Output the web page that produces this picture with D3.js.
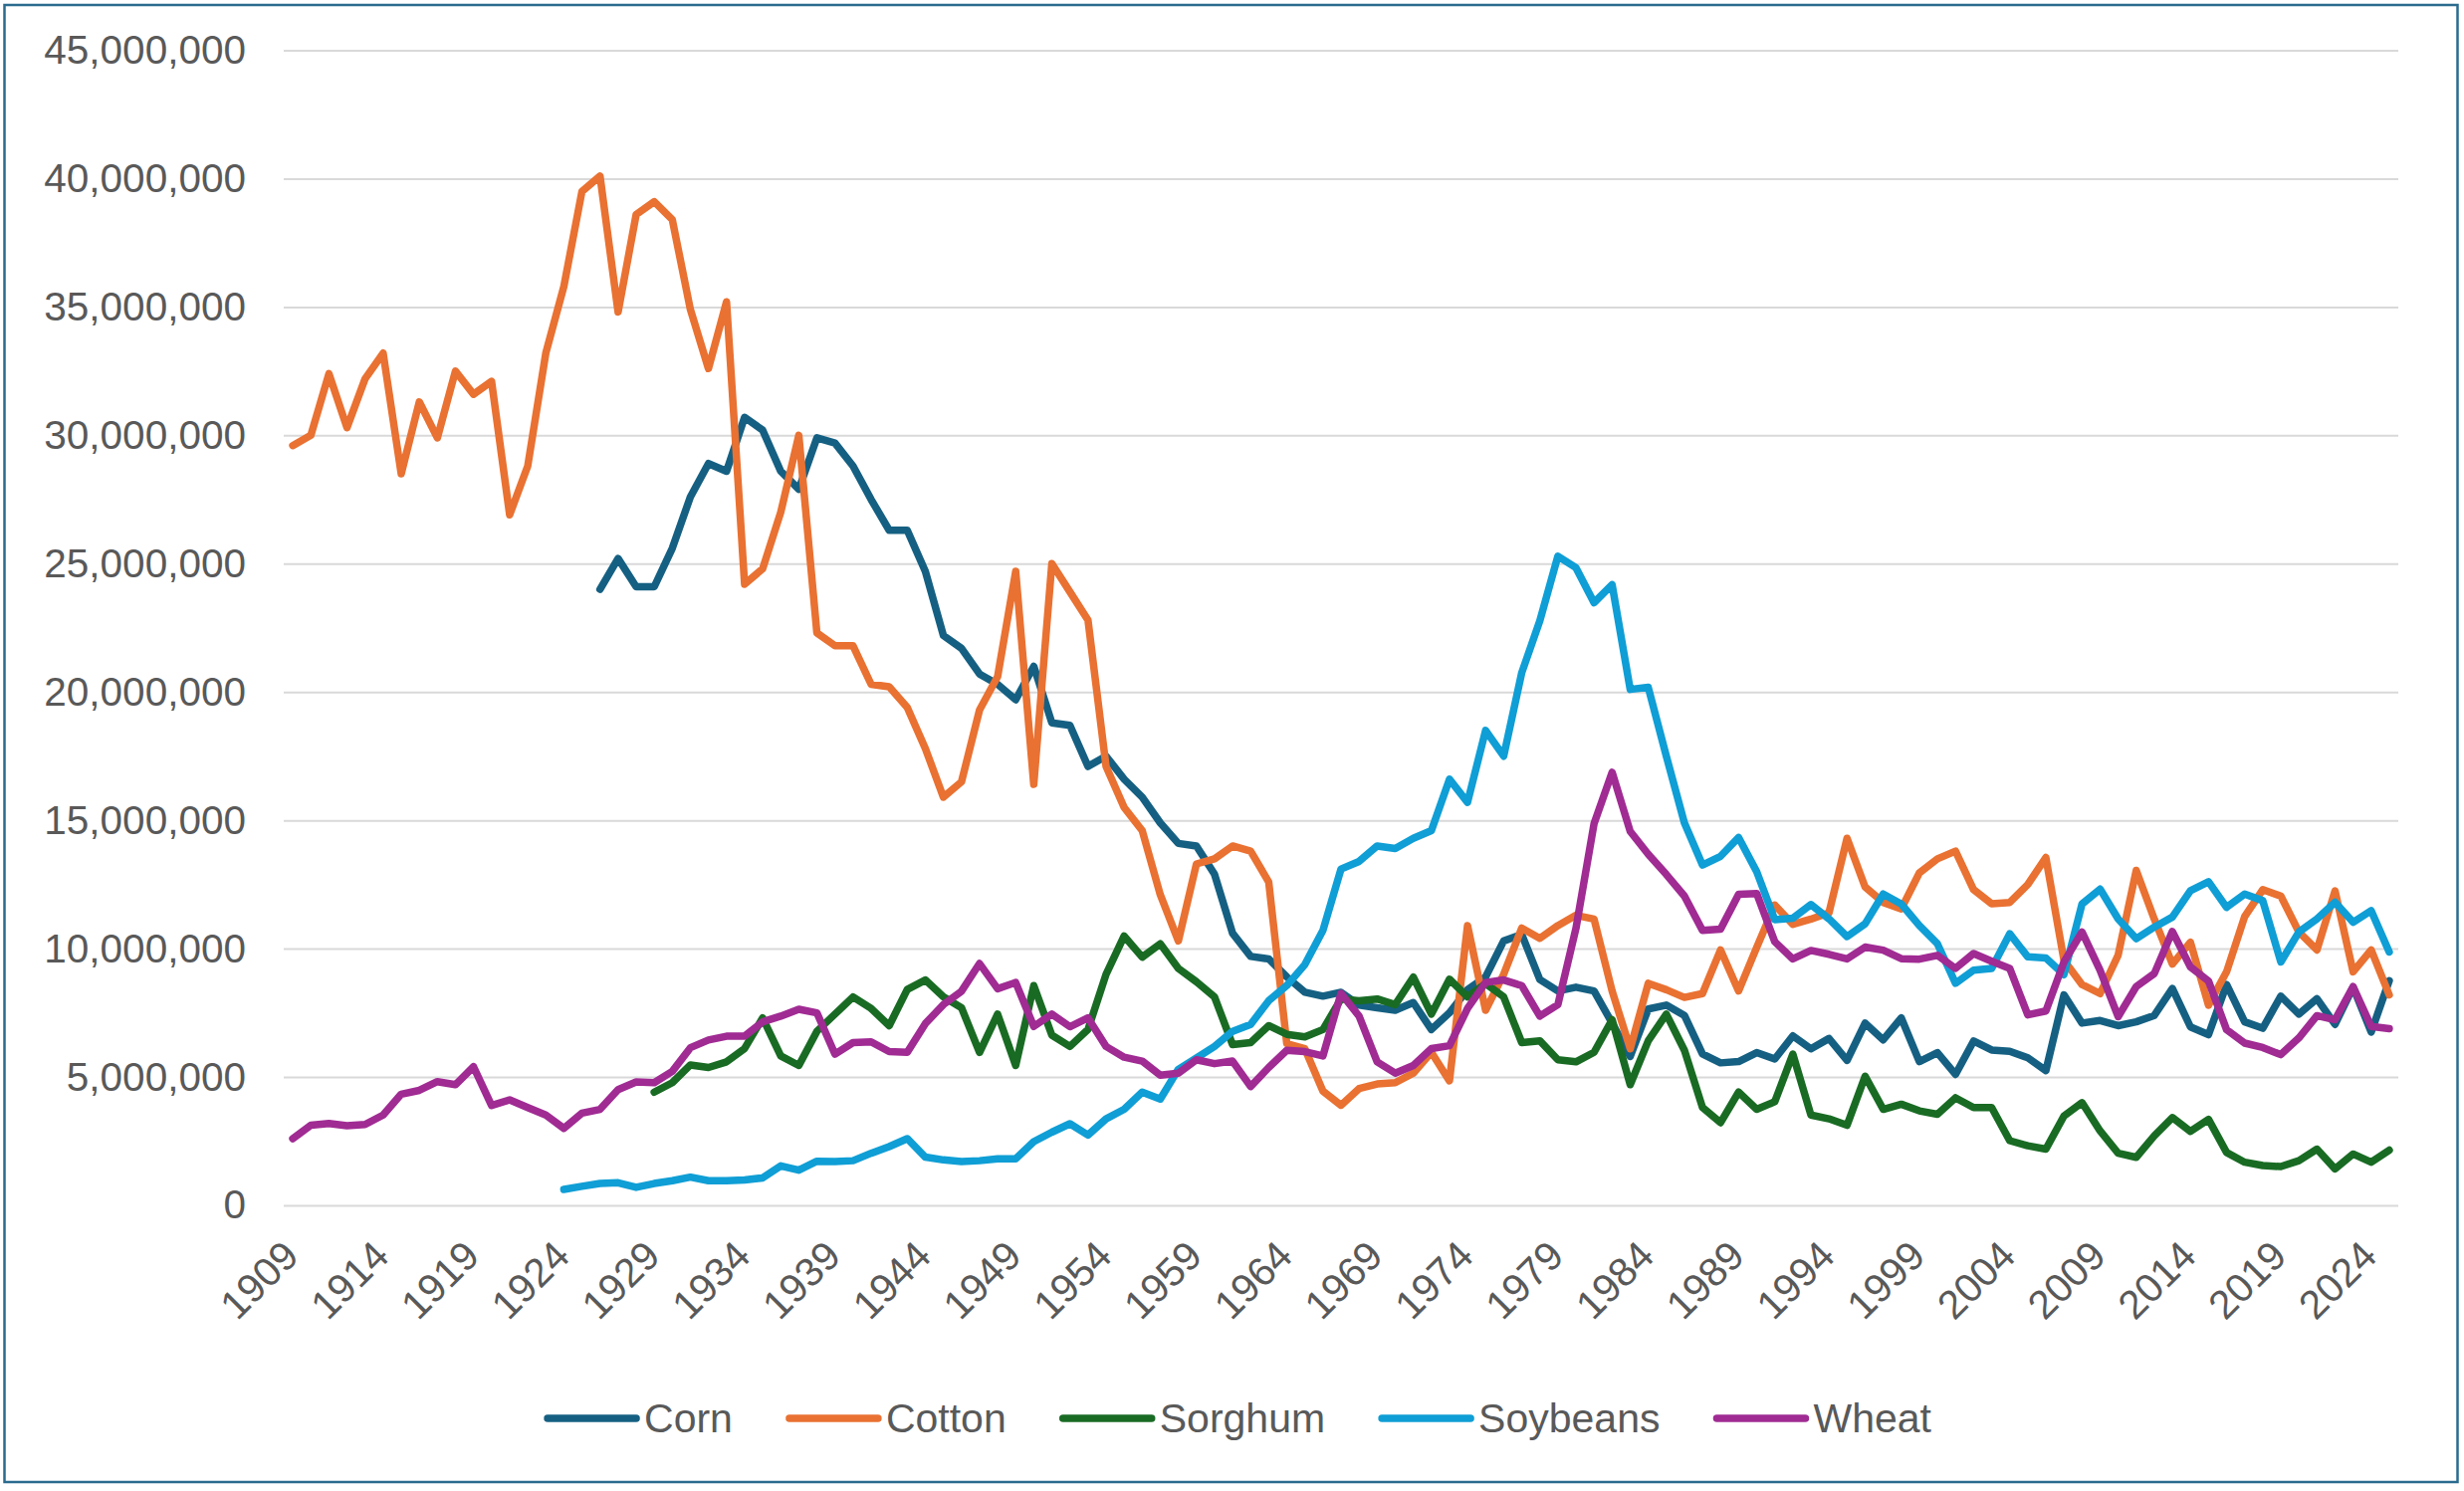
<!DOCTYPE html>
<html>
<head>
<meta charset="utf-8">
<script src="https://cdnjs.cloudflare.com/ajax/libs/d3/7.8.5/d3.min.js"></script>
<style>
  body { margin: 0; background: #fff; }
  text { font-family: "Liberation Sans", Arial, sans-serif; fill: #595959; }
</style>
</head>
<body>
<script>
// years on the category axis
var years = d3.range(1909, 2026);
var tickYears = years.filter(function(y) { return (y - 1909) % 5 === 0; });
var yTicks = [0, 5, 10, 15, 20, 25, 30, 35, 40, 45]; // millions

// values in millions, one per year 1909-2025 (null = no data)
var corn = [
  null, null, null, null, null, null, null, null, null, null,
  null, null, null, null, null, null, null,
  24.0, 25.2, 24.1, 24.1, 25.6, 27.6, 28.9, 28.6, 30.7, 30.2,
  28.6, 27.9, 29.9, 29.7, 28.8, 27.5, 26.3, 26.3, 24.7, 22.2,
  21.7, 20.7, 20.3, 19.7, 21.0, 18.8, 18.7, 17.1, 17.5, 16.6,
  15.9, 14.9, 14.1, 14.0, 12.9, 10.6, 9.7, 9.6, 8.9, 8.3,
  8.15, 8.3, 7.8, 7.7, 7.6, 7.9, 6.85, 7.5, 8.4, 8.9,
  10.3, 10.55, 8.8, 8.35, 8.5, 8.35, 7.1, 5.8, 7.65, 7.8,
  7.4, 5.9, 5.55, 5.6, 5.95, 5.7, 6.6, 6.1, 6.5, 5.65,
  7.1, 6.45, 7.3, 5.6, 5.95, 5.1, 6.4, 6.05, 6.0, 5.75,
  5.25, 8.2, 7.1, 7.2, 7.0, 7.15, 7.4, 8.45, 6.95, 6.65,
  8.6, 7.15, 6.9, 8.15, 7.45, 8.05, 7.05, 8.5, 6.75, 8.75
];

var cotton = [
  29.6, 30.0, 32.4, 30.3, 32.2, 33.2, 28.5, 31.3, 29.9, 32.5,
  31.6, 32.1, 26.9, 28.8, 33.2, 35.8, 39.5, 40.1, 34.8, 38.6,
  39.1, 38.4, 34.9, 32.6, 35.2, 24.2, 24.8, 27.0, 30.0, 22.3,
  21.8, 21.8, 20.3, 20.2, 19.4, 17.8, 15.9, 16.5, 19.3, 20.6,
  24.7, 16.4, 25.0, 23.9, 22.8, 17.1, 15.5, 14.6, 12.1, 10.3,
  13.3, 13.5, 14.0, 13.8, 12.6, 6.3, 6.1, 4.45, 3.9, 4.55,
  4.73, 4.78, 5.15, 5.96, 4.85, 10.9, 7.6, 9.0, 10.8, 10.4,
  10.9, 11.3, 11.15, 8.35, 6.1, 8.65, 8.4, 8.1, 8.25, 9.95,
  8.35, 10.05, 11.7, 10.95, 11.15, 11.4, 14.3, 12.4, 11.8, 11.55,
  12.95, 13.5, 13.8, 12.3, 11.75, 11.8, 12.5, 13.55, 9.55, 8.6,
  8.25, 9.75, 13.05, 11.15, 9.4, 10.25, 7.8, 9.1, 11.25, 12.3,
  12.05, 10.65, 9.95, 12.25, 9.1, 9.95, 8.2
];

var sorghum = [
  null, null, null, null, null, null, null, null, null, null,
  null, null, null, null, null, null, null, null, null, null,
  4.41, 4.78, 5.47, 5.37, 5.59, 6.11, 7.3, 5.82, 5.45, 6.78,
  7.45, 8.12, 7.67, 7.0, 8.41, 8.78, 8.12, 7.7, 5.96, 7.45,
  5.45, 8.56, 6.63, 6.19, 6.85, 9.0, 10.49, 9.67, 10.19, 9.23,
  8.71, 8.12, 6.26, 6.34, 7.0, 6.66, 6.56, 6.85, 8.04, 7.97,
  8.04, 7.82, 8.89, 7.45, 8.81, 8.12, 8.64, 8.12, 6.34, 6.41,
  5.67, 5.59, 5.96, 7.23, 4.70, 6.41, 7.45, 6.04, 3.81, 3.22,
  4.41, 3.74, 4.04, 5.89, 3.52, 3.37, 3.12, 5.03, 3.74, 3.94,
  3.68, 3.55, 4.19, 3.81, 3.81, 2.52, 2.32, 2.19, 3.48, 4.0,
  2.90, 2.03, 1.87, 2.71, 3.42, 2.88, 3.35, 2.06, 1.68, 1.55,
  1.51, 1.74, 2.19, 1.42, 2.0, 1.68, 2.15
];

var soybeans = [
  null, null, null, null, null, null, null, null, null, null,
  null, null, null, null, null,
  0.62, 0.74, 0.85, 0.88, 0.70, 0.85, 0.96, 1.10, 0.96, 0.96,
  0.99, 1.07, 1.54, 1.37, 1.72, 1.71, 1.74, 2.03, 2.29, 2.6,
  1.88, 1.77, 1.71, 1.74, 1.81, 1.81, 2.48, 2.85, 3.18, 2.74,
  3.37, 3.74, 4.41, 4.14, 5.30, 5.74, 6.19, 6.78, 7.05, 7.97,
  8.56, 9.38, 10.71, 13.1, 13.4, 14.0, 13.9, 14.3, 14.6, 16.6,
  15.7, 18.5, 17.5, 20.75, 22.77, 25.29, 24.84, 23.48, 24.18, 20.1,
  20.18, 17.5, 14.9, 13.26, 13.6, 14.33, 13.0, 11.13, 11.19, 11.72,
  11.16, 10.47, 10.97, 12.13, 11.74, 10.90, 10.19, 8.65, 9.16, 9.23,
  10.58, 9.68, 9.64, 8.99, 11.74, 12.32, 11.16, 10.39, 10.84, 11.23,
  12.26, 12.61, 11.61, 12.13, 11.87, 9.48, 10.65, 11.16, 11.81, 11.03,
  11.48, 9.87
];

var wheat = [
  2.60, 3.12, 3.19, 3.10, 3.15, 3.52, 4.33, 4.48, 4.82, 4.70,
  5.40, 3.89, 4.11, 3.81, 3.52, 3.0, 3.59, 3.74, 4.51, 4.81,
  4.78, 5.22, 6.14, 6.44, 6.59, 6.59, 7.15, 7.37, 7.64, 7.5,
  5.89, 6.34, 6.37, 5.99, 5.96, 7.08, 7.82, 8.34, 9.42, 8.44,
  8.68, 6.97, 7.45, 6.96, 7.3, 6.19, 5.77, 5.62, 5.07, 5.15,
  5.67, 5.52, 5.62, 4.63, 5.37, 6.04, 5.99, 5.82, 8.26, 7.37,
  5.59, 5.15, 5.45, 6.11, 6.22, 7.67, 8.68, 8.78, 8.56, 7.37,
  7.82, 10.79, 14.87, 16.87, 14.57, 13.68, 12.89, 12.05, 10.71, 10.76,
  12.12, 12.15, 10.27, 9.6, 9.93, 9.78, 9.6, 10.06, 9.94, 9.61,
  9.59, 9.74, 9.23, 9.81, 9.51, 9.23, 7.42, 7.57, 9.48, 10.65,
  9.16, 7.35, 8.52, 9.03, 10.67, 9.29, 8.74, 6.84, 6.32, 6.15,
  5.87, 6.52, 7.39, 7.23, 8.52, 6.97, 6.88
];

var seriesNames = ["Corn", "Cotton", "Sorghum", "Soybeans", "Wheat"];
var seriesValues = [corn, cotton, sorghum, soybeans, wheat];
var seriesColors = ["#156082", "#E97132", "#196B24", "#0F9ED5", "#A02B93"];

var width = 2475, height = 1498;
var plot = { left: 285, right: 2409, top: 50.5, bottom: 1211 };
var lineWidth = 7.5;

var svg = d3.select("body")
  .append("svg")
    .attr("width", width)
    .attr("height", height);

svg.append("rect")
  .attr("width", width)
  .attr("height", height)
  .attr("fill", "#fff");

// chart border
svg.append("rect")
  .attr("x", 4.5)
  .attr("y", 5)
  .attr("width", 2464)
  .attr("height", 1484)
  .attr("fill", "none")
  .attr("stroke", "#2A6B8E")
  .attr("stroke-width", 2.5);

var x = d3.scaleBand().domain(years).range([plot.left, plot.right]);
var y = d3.scaleLinear().domain([0, 45]).range([plot.bottom, plot.top]);
var cx = function(yr) { return x(yr) + x.bandwidth() / 2; };

// gridlines + y labels
var yAxis = svg.append("g")
  .attr("transform", "translate(" + plot.left + ",0)")
  .call(d3.axisLeft(y)
    .tickValues(yTicks)
    .tickSize(-(plot.right - plot.left))
    .tickPadding(38)
    .tickFormat(function(d) { return d3.format(",")(d * 1e6); }));
yAxis.select(".domain").remove();
yAxis.selectAll(".tick line")
  .attr("stroke", "#D9D9D9")
  .attr("stroke-width", 2);
yAxis.selectAll(".tick text")
  .attr("font-size", 40.5)
  .attr("fill", "#595959")
  .style("font-family", '"Liberation Sans", Arial, sans-serif');

// x labels, rotated
svg.append("g")
  .selectAll("text")
  .data(tickYears)
  .enter().append("text")
    .attr("transform", function(d) {
      return "translate(" + (cx(d) + 8) + "," + (plot.bottom + 53) + ") rotate(-45)";
    })
    .attr("text-anchor", "end")
    .attr("font-size", 40.5)
    .text(function(d) { return d; });

var line = d3.line()
  .defined(function(d) { return d.v != null; })
  .x(function(d) { return cx(d.year); })
  .y(function(d) { return y(d.v); });

seriesValues.forEach(function(vals, i) {
  var pts = years.map(function(yr, j) { return { year: yr, v: vals[j] }; });
  svg.append("path")
    .datum(pts)
    .attr("fill", "none")
    .attr("stroke", seriesColors[i])
    .attr("stroke-width", lineWidth)
    .attr("stroke-linejoin", "round")
    .attr("stroke-linecap", "round")
    .attr("d", line);
});

// legend
var legend = svg.append("g");
var lx = 0;
seriesNames.forEach(function(name, i) {
  var item = legend.append("g").attr("transform", "translate(" + lx + ",0)");
  item.append("line")
    .attr("x1", 4).attr("x2", 93)
    .attr("y1", 0).attr("y2", 0)
    .attr("stroke", seriesColors[i])
    .attr("stroke-width", lineWidth)
    .attr("stroke-linecap", "round");
  var t = item.append("text")
    .attr("x", 101)
    .attr("dy", "0.35em")
    .attr("font-size", 41)
    .text(name);
  lx += 101 + t.node().getComputedTextLength() + 53;
});
lx -= 53;
legend.attr("transform", "translate(" + (1243 - lx / 2) + ",1425)");
</script>
</body>
</html>
